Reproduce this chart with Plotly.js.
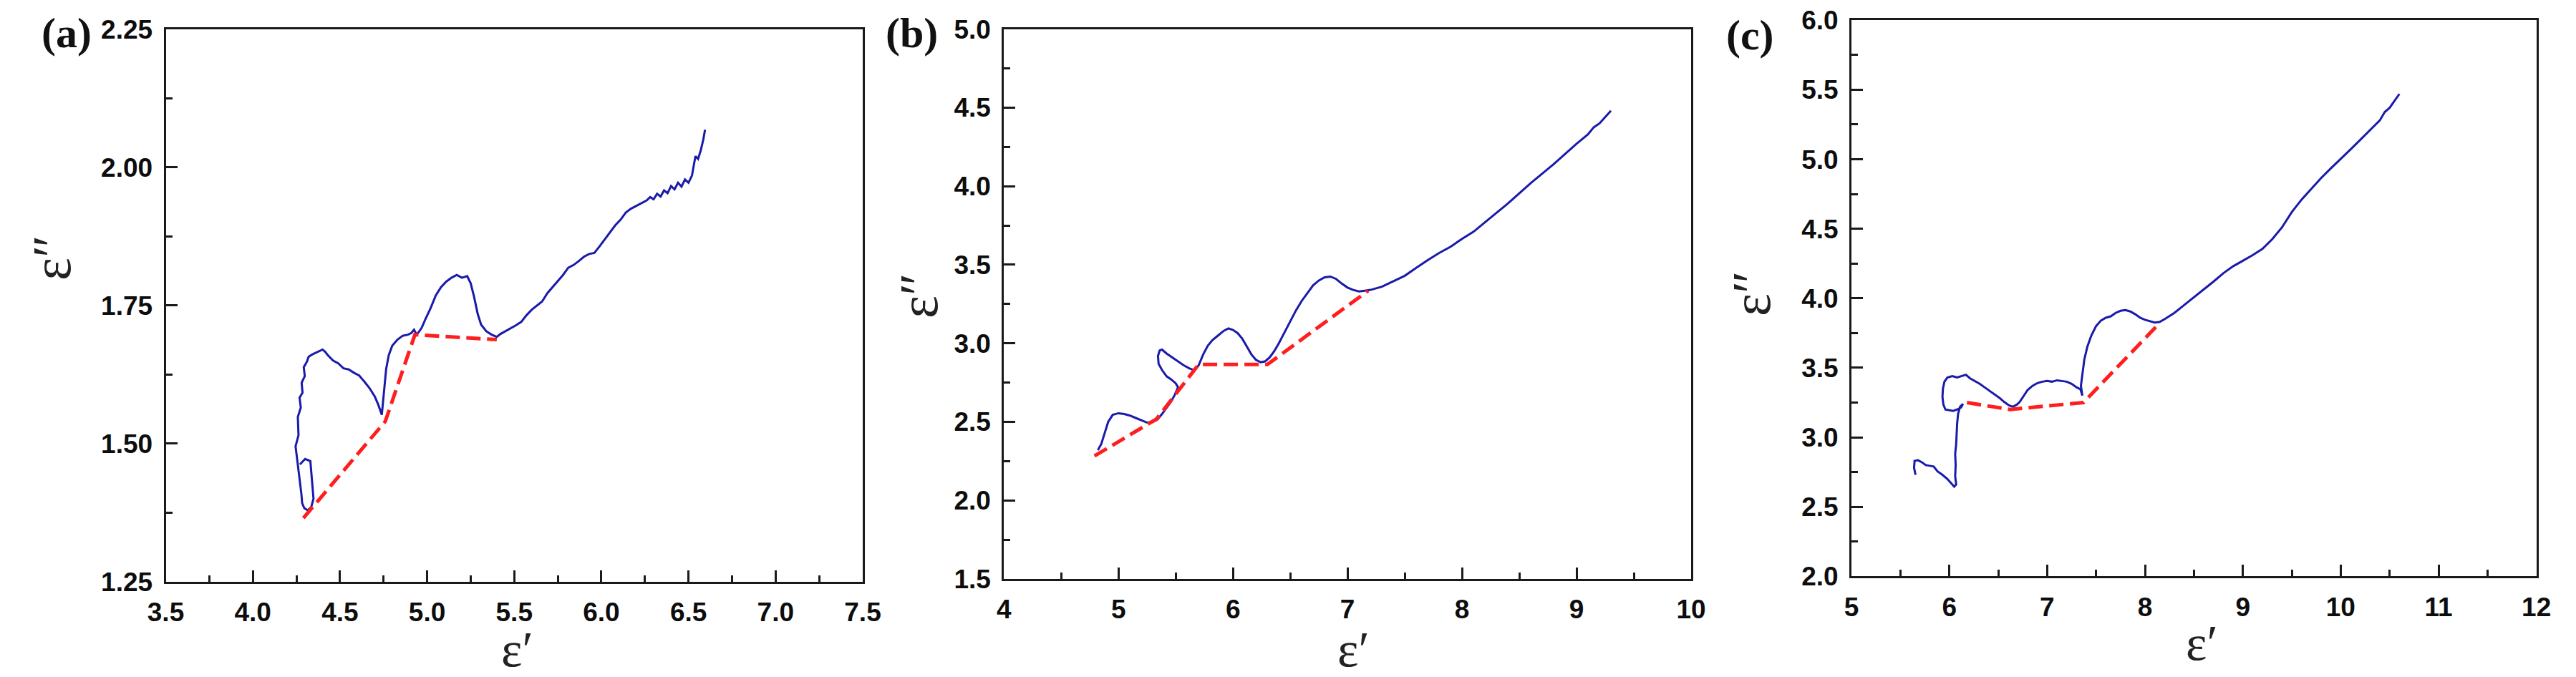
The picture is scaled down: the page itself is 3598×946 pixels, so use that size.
<!DOCTYPE html>
<html>
<head>
<meta charset="utf-8">
<script src="https://cdn.plot.ly/plotly-3.0.1.min.js"></script>
<style>html,body{margin:0;padding:0;background:#fff;}#chart{width:3598px;height:946px;}</style>
</head>
<body>
<div id="chart"></div>
<script>
// ---------- Panel (a) ----------
const aCurveX = [4.27,4.30,4.33,4.338,4.345,4.348,4.335,4.315,4.295,4.283,4.278,4.27,4.262,4.255,4.245,4.262,4.258,4.275,4.268,4.285,4.28,4.298,4.292,4.31,4.32,4.34,4.36,4.38,4.40,4.415,4.43,4.46,4.49,4.52,4.55,4.58,4.61,4.64,4.67,4.70,4.72,4.74,4.745,4.755,4.765,4.78,4.80,4.83,4.86,4.89,4.91,4.925,4.94,4.955,4.97,4.99,5.02,5.05,5.08,5.11,5.14,5.17,5.20,5.23,5.25,5.27,5.29,5.31,5.34,5.37,5.40,5.42,5.45,5.48,5.51,5.54,5.57,5.60,5.63,5.66,5.69,5.72,5.75,5.78,5.81,5.84,5.87,5.90,5.93,5.96,5.99,6.02,6.05,6.08,6.11,6.14,6.17,6.20,6.23,6.26,6.28,6.30,6.32,6.34,6.36,6.38,6.40,6.42,6.44,6.46,6.48,6.50,6.52,6.54,6.555,6.57,6.585,6.595];
const aCurveY = [1.462,1.472,1.468,1.44,1.418,1.40,1.385,1.379,1.383,1.392,1.41,1.43,1.449,1.468,1.495,1.515,1.548,1.565,1.583,1.592,1.61,1.622,1.638,1.648,1.657,1.661,1.664,1.667,1.670,1.666,1.660,1.650,1.645,1.636,1.634,1.628,1.623,1.612,1.600,1.585,1.570,1.552,1.567,1.600,1.635,1.660,1.677,1.688,1.695,1.697,1.700,1.706,1.697,1.703,1.710,1.725,1.745,1.768,1.783,1.793,1.800,1.805,1.800,1.803,1.790,1.765,1.735,1.715,1.703,1.697,1.693,1.698,1.703,1.708,1.714,1.720,1.732,1.742,1.750,1.757,1.772,1.783,1.793,1.805,1.818,1.823,1.830,1.838,1.843,1.845,1.857,1.870,1.882,1.895,1.905,1.918,1.925,1.930,1.934,1.940,1.946,1.942,1.952,1.947,1.958,1.953,1.966,1.960,1.972,1.965,1.978,1.972,1.985,2.020,2.015,2.030,2.050,2.068];
const aDashX = [4.29, 4.76, 4.93, 5.40];
const aDashY = [1.365, 1.540, 1.697, 1.688];

// ---------- Panel (b) ----------
const bCurveX = [4.82,4.85,4.88,4.91,4.95,5.00,5.05,5.10,5.15,5.20,5.25,5.30,5.34,5.38,5.42,5.46,5.49,5.52,5.50,5.46,5.42,5.38,5.35,5.345,5.36,5.38,5.42,5.47,5.52,5.57,5.62,5.66,5.70,5.74,5.78,5.82,5.87,5.92,5.96,6.00,6.04,6.08,6.12,6.16,6.20,6.24,6.28,6.32,6.36,6.40,6.45,6.50,6.55,6.60,6.65,6.70,6.75,6.80,6.85,6.90,6.95,7.00,7.05,7.10,7.15,7.20,7.30,7.40,7.50,7.60,7.70,7.80,7.90,8.00,8.10,8.20,8.30,8.40,8.50,8.60,8.70,8.80,8.90,9.00,9.10,9.15,9.20,9.25,9.30];
const bCurveY = [2.32,2.36,2.43,2.50,2.545,2.555,2.55,2.54,2.525,2.51,2.495,2.50,2.515,2.55,2.59,2.63,2.67,2.72,2.745,2.77,2.79,2.83,2.87,2.92,2.955,2.96,2.935,2.91,2.885,2.86,2.84,2.83,2.86,2.93,2.985,3.02,3.05,3.08,3.095,3.085,3.065,3.03,2.98,2.93,2.895,2.88,2.885,2.91,2.95,3.00,3.07,3.14,3.21,3.27,3.32,3.37,3.40,3.42,3.425,3.41,3.38,3.355,3.34,3.33,3.335,3.34,3.36,3.395,3.43,3.48,3.53,3.575,3.615,3.665,3.71,3.77,3.83,3.89,3.955,4.02,4.08,4.14,4.205,4.27,4.33,4.375,4.40,4.44,4.48];
const bDashX = [4.79, 5.33, 5.70, 6.30, 7.18];
const bDashY = [2.283, 2.517, 2.865, 2.865, 3.335];

// ---------- Panel (c) ----------
const cCurveX = [5.655,5.64,5.645,5.68,5.72,5.76,5.80,5.84,5.88,5.93,5.98,6.02,6.05,6.07,6.06,6.065,6.06,6.07,6.075,6.08,6.09,6.11,6.14,6.12,6.08,6.04,6.00,5.96,5.94,5.93,5.935,5.95,5.98,6.03,6.08,6.13,6.17,6.21,6.26,6.31,6.36,6.41,6.46,6.51,6.56,6.61,6.65,6.69,6.72,6.76,6.80,6.85,6.90,6.95,7.00,7.05,7.10,7.15,7.20,7.25,7.30,7.34,7.36,7.345,7.36,7.38,7.41,7.45,7.50,7.55,7.60,7.65,7.70,7.75,7.80,7.85,7.90,7.95,8.00,8.05,8.10,8.15,8.20,8.30,8.40,8.50,8.60,8.70,8.80,8.90,9.00,9.10,9.20,9.30,9.40,9.50,9.60,9.70,9.80,9.90,10.00,10.10,10.20,10.30,10.40,10.45,10.50,10.55,10.60];
const cCurveY = [2.73,2.78,2.83,2.835,2.82,2.80,2.795,2.79,2.755,2.73,2.70,2.67,2.645,2.66,2.72,2.80,2.88,2.95,3.03,3.10,3.17,3.22,3.24,3.215,3.20,3.19,3.195,3.20,3.235,3.29,3.35,3.40,3.43,3.44,3.43,3.44,3.45,3.425,3.405,3.385,3.36,3.335,3.31,3.285,3.255,3.23,3.22,3.235,3.255,3.30,3.34,3.37,3.39,3.40,3.405,3.40,3.41,3.405,3.40,3.385,3.36,3.345,3.30,3.37,3.45,3.56,3.65,3.73,3.80,3.84,3.86,3.87,3.895,3.91,3.915,3.905,3.885,3.86,3.845,3.835,3.825,3.83,3.85,3.895,3.95,4.01,4.065,4.12,4.18,4.23,4.27,4.31,4.355,4.425,4.51,4.62,4.71,4.79,4.865,4.935,5.00,5.07,5.14,5.21,5.28,5.34,5.37,5.42,5.47];
const cDashX = [6.18, 6.62, 7.37, 8.12];
const cDashY = [3.25, 3.20, 3.25, 3.80];

// ---------- Axis setup ----------
const xRanges = [[3.5, 7.5], [4, 10], [5, 12]];
const yRanges = [[1.25, 2.25], [1.5, 5.0], [2.0, 6.0]];
const xMajor = [0.5, 1, 1];
const yMajor = [0.25, 0.5, 0.5];
const xFormats = ['.1f', 'd', 'd'];
const yFormats = ['.2f', '.1f', '.1f'];
const panelLabels = ['(a)', '(b)', '(c)'];
const xTitle = 'ε′';
const yTitle = 'ε″';

const W = 3598, H = 946;
const boxes = [ // left, right, top, bottom in px
  [231.5, 1205, 40.7, 812.7],
  [1402.3, 2362, 40.7, 809],
  [2586, 3542.7, 28.3, 805.3]
];

const lineColor = '#1a1a1a';
const tickFont = {family: 'Liberation Sans, Arial, sans-serif', size: 37, color: '#0d0d0d', weight: 'bold'};

function axisCommon() {
  return {
    showline: true, linewidth: 3, linecolor: lineColor, mirror: true,
    ticks: 'inside', ticklen: 16, tickwidth: 3, tickcolor: lineColor,
    showgrid: false, zeroline: false, tickfont: tickFont,
    ticklabelstandoff: 8,
    fixedrange: true
  };
}

const layout = {
  width: W, height: H,
  margin: {l: 0, r: 0, t: 0, b: 0},
  paper_bgcolor: '#fff', plot_bgcolor: '#fff',
  showlegend: false,
  annotations: []
};

const curves = [[aCurveX, aCurveY], [bCurveX, bCurveY], [cCurveX, cCurveY]];
const dashes = [[aDashX, aDashY], [bDashX, bDashY], [cDashX, cDashY]];
const traces = [];

for (let i = 0; i < 3; i++) {
  const [l, r, t, b] = boxes[i];
  const xa = i === 0 ? 'xaxis' : 'xaxis' + (i + 1);
  const ya = i === 0 ? 'yaxis' : 'yaxis' + (i + 1);
  const xr = i === 0 ? 'x' : 'x' + (i + 1);
  const yr = i === 0 ? 'y' : 'y' + (i + 1);
  layout[xa] = Object.assign(axisCommon(), {
    domain: [l / W, r / W], anchor: yr, range: xRanges[i],
    tick0: xRanges[i][0], dtick: xMajor[i], tickformat: xFormats[i],
    minor: {ticks: 'inside', ticklen: 9, tickwidth: 3, tickcolor: lineColor, dtick: xMajor[i] / 2, tick0: xRanges[i][0], showgrid: false}
  });
  layout[ya] = Object.assign(axisCommon(), {
    domain: [1 - b / H, 1 - t / H], anchor: xr, range: yRanges[i],
    tick0: yRanges[i][0], dtick: yMajor[i], tickformat: yFormats[i],
    minor: {ticks: 'inside', ticklen: 9, tickwidth: 3, tickcolor: lineColor, dtick: yMajor[i] / 2, tick0: yRanges[i][0], showgrid: false}
  });
  traces.push({
    x: curves[i][0], y: curves[i][1], xaxis: xr, yaxis: yr,
    type: 'scatter', mode: 'lines', line: {color: '#1a1aab', width: 3}, hoverinfo: 'skip'
  });
  traces.push({
    x: dashes[i][0], y: dashes[i][1], xaxis: xr, yaxis: yr,
    type: 'scatter', mode: 'lines', line: {color: '#ff1e1e', width: 5, dash: '20px,9px'}, hoverinfo: 'skip'
  });
}

const labelPos = [[93, 46], [1273, 46], [2444, 49]];
const yTitlePos = [[72, 360], [1283, 413], [2446, 410]];
const xTitlePos = [[722, 907], [1890, 907], [3075, 898]];
for (let i = 0; i < 3; i++) {
  layout.annotations.push({
    xref: 'paper', yref: 'paper', x: labelPos[i][0] / W, y: 1 - labelPos[i][1] / H,
    xanchor: 'center', yanchor: 'middle', showarrow: false, text: panelLabels[i],
    font: {family: 'Liberation Serif, Times New Roman, serif', size: 60, color: '#111', weight: 'bold'}
  });
  layout.annotations.push({
    xref: 'paper', yref: 'paper', x: yTitlePos[i][0] / W, y: 1 - yTitlePos[i][1] / H,
    xanchor: 'center', yanchor: 'middle', showarrow: false, text: yTitle, textangle: -90,
    font: {family: 'Liberation Serif, Times New Roman, serif', size: 76, color: '#222'}
  });
  layout.annotations.push({
    xref: 'paper', yref: 'paper', x: xTitlePos[i][0] / W, y: 1 - xTitlePos[i][1] / H,
    xanchor: 'center', yanchor: 'middle', showarrow: false, text: xTitle,
    font: {family: 'Liberation Serif, Times New Roman, serif', size: 70, color: '#222'}
  });
}

Plotly.newPlot('chart', traces, layout, {staticPlot: true, displayModeBar: false});
</script>
</body>
</html>
